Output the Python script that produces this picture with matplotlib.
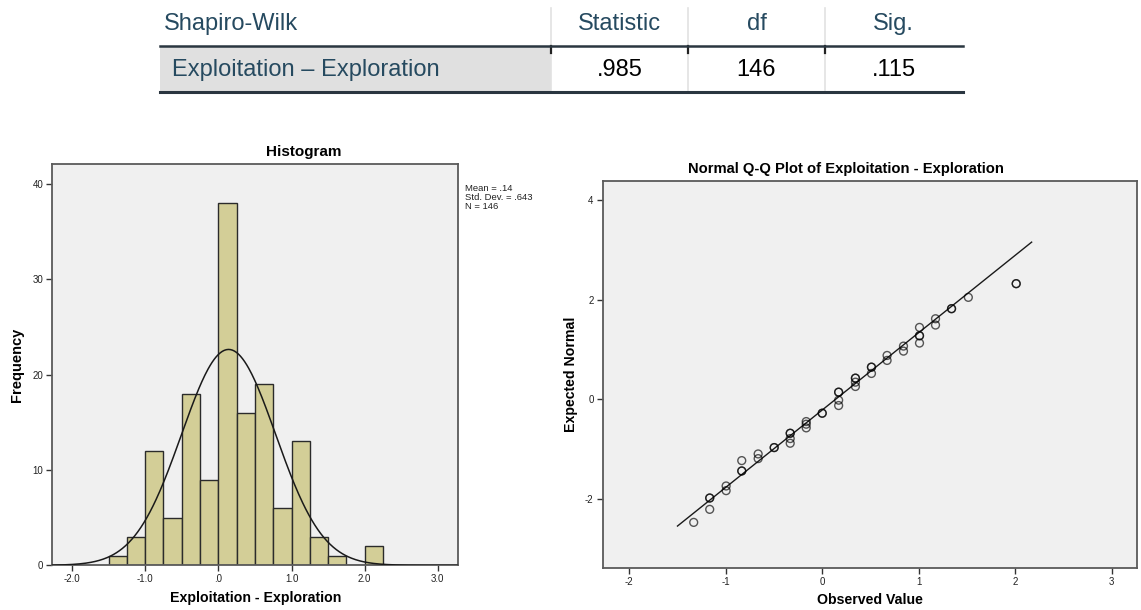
import numpy as np
import matplotlib
matplotlib.use("Agg")
import matplotlib.pyplot as plt
from matplotlib.patches import Rectangle
from matplotlib.lines import Line2D

plt.rcParams["font.family"] = ["Liberation Sans", "DejaVu Sans"]
plt.rcParams["axes.unicode_minus"] = False

# ---- Shapiro-Wilk table -------------------------------------------------
table_header = ["Shapiro-Wilk", "Statistic", "df", "Sig."]
table_row = ["Exploitation – Exploration", ".985", "146", ".115"]

# ---- Histogram -----------------------------------------------------------
bin_left = [-1.5, -1.25, -1.0, -0.75, -0.5, -0.25, 0.0, 0.25, 0.5, 0.75,
            1.0, 1.25, 1.5, 1.75, 2.0]
bin_counts = [1, 3, 12, 5, 18, 9, 38, 16, 19, 6, 13, 3, 1, 0, 2]
bin_width = 0.25
mean_val = 0.14
sd_val = 0.643
n_cases = 146
hist_xticks = [-2.0, -1.0, 0.0, 1.0, 2.0, 3.0]
hist_xticklabels = ["-2.0", "-1.0", ".0", "1.0", "2.0", "3.0"]
hist_yticks = [0, 10, 20, 30, 40]

# ---- Normal Q-Q plot ------------------------------------------------------
qq_observed = [-1.332, -1.166, -1.166, -0.996, -0.996, -0.834, -0.834,
               -0.664, -0.664, -0.498, -0.332, -0.332, -0.332, -0.166,
               -0.166, -0.166, 0.0, 0.17, 0.17, 0.17, 0.344, 0.344, 0.344,
               0.51, 0.51, 0.672, 0.672, 0.842, 0.842, 1.008, 1.008, 1.008,
               1.174, 1.174, 1.34, 1.514, 2.01]
qq_expected = [-2.477, -1.987, -2.215, -1.745, -1.839, -1.235, -1.443,
               -1.101, -1.195, -0.973, -0.685, -0.792, -0.886, -0.450,
               -0.503, -0.577, -0.282, 0.141, -0.02, -0.128, 0.423, 0.342,
               0.255, 0.644, 0.517, 0.879, 0.779, 1.067, 0.966, 1.443,
               1.275, 1.128, 1.617, 1.49, 1.819, 2.047, 2.322]
qq_repeats = [1, 2, 1, 1, 1, 1, 2, 1, 1, 2, 2, 1, 1, 1, 1, 1, 2, 2, 1, 1,
              2, 1, 1, 2, 1, 1, 1, 1, 1, 1, 2, 1, 1, 1, 2, 1, 2]
qq_line_x = [-1.5, 2.17]
qq_xticks = [-2, -1, 0, 1, 2, 3]
qq_yticks = [-2, 0, 2, 4]

W, H = 1141, 610
fig = plt.figure(figsize=(W / 100, H / 100), dpi=100)
fig.patch.set_facecolor("white")


def frac_box(x0, y0, x1, y1):
    """Pixel box (top-left origin) -> figure fraction rect."""
    return [x0 / W, 1 - y1 / H, (x1 - x0) / W, (y1 - y0) / H]


# Table drawn in pixel space
ax_t = fig.add_axes([0, 0, 1, 1])
ax_t.set_xlim(0, W)
ax_t.set_ylim(H, 0)
ax_t.axis("off")

tbl_color = "#264A60"
tbl_size = 17
col_sep = [551, 688, 825]
col_centers = [619.5, 756.5, 893.5]
ax_t.add_patch(Rectangle((160, 47), 391, 44, facecolor="#E0E0E0",
                         edgecolor="none"))
for xs in col_sep:
    ax_t.add_line(Line2D([xs, xs], [8, 45], color="#E2E2E2", lw=1.2))
    ax_t.add_line(Line2D([xs, xs], [52, 90], color="#E2E2E2", lw=1.2))
    ax_t.add_line(Line2D([xs, xs], [46, 53], color="#222222", lw=1.6))
ax_t.add_line(Line2D([160, 963], [46, 46], color="#2A3640", lw=1.8))
ax_t.add_line(Line2D([160, 963], [92, 92], color="#2A3640", lw=2.2))

ax_t.text(164, 24, table_header[0], color=tbl_color, fontsize=tbl_size,
          ha="left", va="center")
for cx, label in zip(col_centers, table_header[1:]):
    ax_t.text(cx, 24, label, color=tbl_color, fontsize=tbl_size,
              ha="center", va="center")
ax_t.text(172, 70, table_row[0], color=tbl_color, fontsize=tbl_size,
          ha="left", va="center")
for cx, label in zip(col_centers, table_row[1:]):
    ax_t.text(cx, 70, label, color="#000000", fontsize=tbl_size,
              ha="center", va="center")

panel_bg = "#F0F0F0"
spine_color = "#5A5A5A"


def style_axes(ax):
    ax.set_facecolor(panel_bg)
    for sp in ax.spines.values():
        sp.set_color(spine_color)
        sp.set_linewidth(1.3)
    ax.tick_params(direction="out", length=4.5, width=1.0, color="#333333",
                   labelsize=7, labelcolor="#222222", pad=2)


# Histogram with fitted normal curve
ax_h = fig.add_axes(frac_box(52.3, 164, 458.3, 565.3))
style_axes(ax_h)
ax_h.bar(bin_left, bin_counts, width=bin_width, align="edge",
         color="#D3CE97", edgecolor="#2B2B2B", linewidth=1.0, zorder=2)
ax_h.set_xlim(-2.27, 3.28)
ax_h.set_ylim(0, 42.1)
xs = np.linspace(-2.27, 3.28, 400)
curve = n_cases * bin_width * np.exp(-0.5 * ((xs - mean_val) / sd_val) ** 2) \
    / (sd_val * np.sqrt(2 * np.pi))
ax_h.plot(xs, curve, color="#1A1A1A", lw=1.1, zorder=3)
ax_h.set_xticks(hist_xticks)
ax_h.set_xticklabels(hist_xticklabels)
ax_h.set_yticks(hist_yticks)
ax_h.set_xlabel("Exploitation - Exploration", fontsize=10.2,
                fontweight="bold", labelpad=5)
ax_h.set_ylabel("Frequency", fontsize=10.5, fontweight="bold", labelpad=6)
fig.text(304 / W, 1 - 152 / H, "Histogram", fontsize=11, fontweight="bold",
         ha="center", va="center")

stats_text = "Mean = {}\nStd. Dev. = {}\nN = {}".format(
    f"{mean_val:.2f}".lstrip("0"), f"{sd_val:.3f}".lstrip("0"), n_cases)
fig.text(465 / W, 1 - 184 / H, stats_text, fontsize=6.8, color="#222222",
         ha="left", va="top", linespacing=1.0)

# Normal Q-Q plot
ax_q = fig.add_axes(frac_box(602.7, 181.3, 1137.3, 568.3))
style_axes(ax_q)
ax_q.set_xlim(-2.275, 3.265)
ax_q.set_ylim(-3.40, 4.38)
line_x = np.array(qq_line_x)
ax_q.plot(line_x, (line_x - mean_val) / sd_val, color="#1A1A1A", lw=1.0,
          zorder=2)
for ox, ey, rep in zip(qq_observed, qq_expected, qq_repeats):
    for _ in range(rep):
        ax_q.scatter([ox], [ey], s=32, facecolors="none",
                     edgecolors="black", linewidths=1.0, alpha=0.65, zorder=3)
ax_q.set_xticks(qq_xticks)
ax_q.set_yticks(qq_yticks)
ax_q.set_xlabel("Observed Value", fontsize=10.2, fontweight="bold",
                labelpad=4)
ax_q.set_ylabel("Expected Normal", fontsize=10.2, fontweight="bold",
                labelpad=5)
fig.text(846 / W, 1 - 169.5 / H,
         "Normal Q-Q Plot of Exploitation - Exploration", fontsize=10.6,
         fontweight="bold", ha="center", va="center")

fig.savefig("out.png", dpi=100, facecolor="white")
